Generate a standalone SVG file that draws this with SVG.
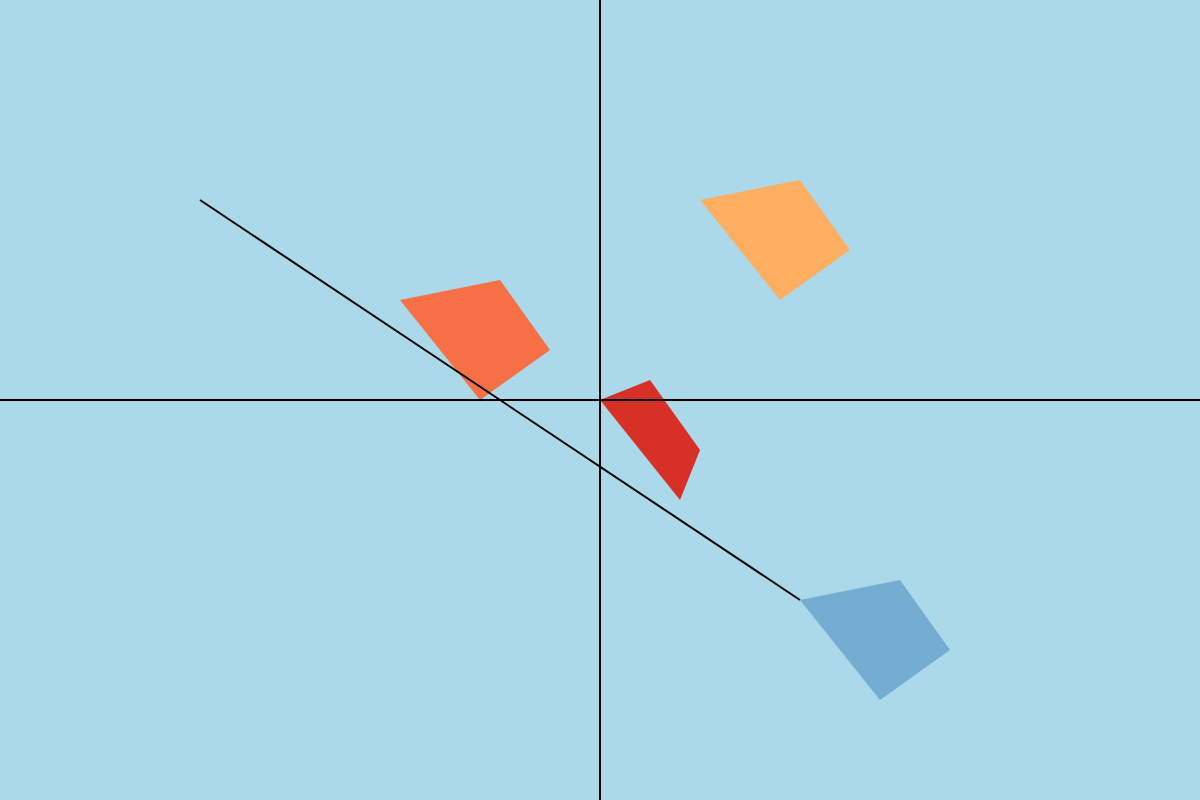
<svg xmlns="http://www.w3.org/2000/svg" width="1200" height="800" viewBox="0 0 1200 800">
<style>
.ax{stroke:#000;stroke-width:2;fill:none}
</style>
<rect x="0" y="0" width="1200" height="800" fill="#ABD9E9"/>
<g id="shapes">
<polygon id="orange" points="400,300 500,280 550,350 480,400" fill="#F67045"/>
<polygon id="lightorange" points="700,200 800,180 850,250 780,300" fill="#FDAE61"/>
<polygon id="red" points="600,400 650,380 700,450 680,500" fill="#D73027"/>
<polygon id="blue" points="800,600 900,580 950,650 880,700" fill="#74ADD1"/>
</g>
<g id="lines">
<line class="ax" x1="600" y1="0" x2="600" y2="800"/>
<line class="ax" x1="0" y1="400" x2="1200" y2="400"/>
<line class="ax" x1="200" y1="200" x2="800" y2="600"/>
</g>
</svg>
